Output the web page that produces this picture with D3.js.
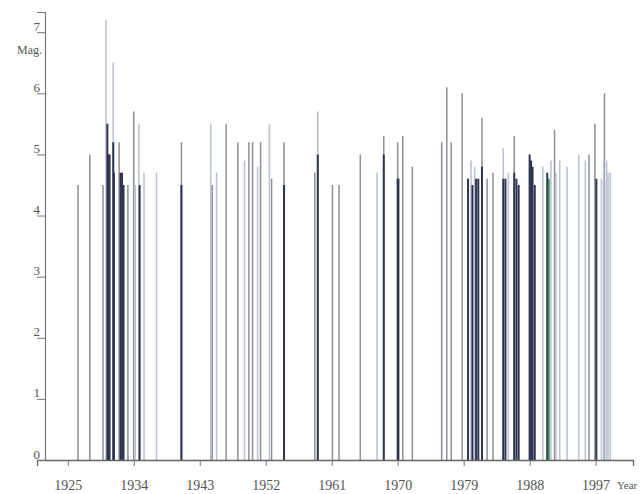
<!DOCTYPE html>
<html>
<head>
<meta charset="utf-8">
<script src="https://cdn.jsdelivr.net/npm/d3@7"></script>
<style>
  body { margin: 0; background: #fff; }
  text { font-family: "Liberation Serif", "DejaVu Serif", serif; fill: #555; }
</style>
</head>
<body>
<div id="chart"></div>
<script>
// event years (fractional), magnitudes and shade class
const years = [
  1926.4, 1928.0, 1929.8, 1930.2, 1930.4, 1930.6, 1930.7, 1931.2, 1931.2, 1931.3,
  1932.0, 1932.2, 1932.4, 1932.6, 1933.2, 1934.0, 1934.2, 1934.7, 1934.8, 1935.4,
  1937.1, 1940.5, 1940.5, 1944.5, 1944.7, 1945.3, 1946.6, 1948.2, 1949.1, 1949.7,
  1950.2, 1950.9, 1951.3, 1952.5, 1952.8, 1954.5, 1954.5, 1958.7, 1959.1, 1959.1,
  1961.1, 1962.0, 1964.9, 1967.2, 1968.1, 1968.1, 1970.0, 1970.0, 1970.1, 1970.7,
  1972.0, 1976.0, 1976.7, 1977.3, 1978.8, 1979.6, 1980.0, 1980.2, 1980.5, 1980.7,
  1981.0, 1981.5, 1981.5, 1982.2, 1983.0, 1984.4, 1984.4, 1984.7, 1985.1, 1985.9,
  1985.9, 1986.2, 1986.5, 1988.0, 1988.2, 1988.4, 1988.7, 1989.8, 1990.4, 1990.6,
  1990.9, 1991.4, 1991.6, 1992.1, 1993.1, 1994.7, 1995.6, 1996.1, 1996.9, 1997.1,
  1997.8, 1998.1, 1998.2, 1998.5, 1998.7, 1999.0
];
const mags = [
  4.5, 5.0, 4.5, 7.2, 5.5, 5.0, 5.0, 6.5, 5.2, 4.7,
  5.2, 4.7, 4.7, 4.5, 4.5, 5.7, 4.5, 5.5, 4.5, 4.7,
  4.7, 5.2, 4.5, 5.5, 4.5, 4.7, 5.5, 5.2, 4.9, 5.2,
  5.2, 4.8, 5.2, 5.5, 4.6, 5.2, 4.5, 4.7, 5.7, 5.0,
  4.5, 4.5, 5.0, 4.7, 5.3, 5.0, 5.2, 4.6, 4.6, 5.3,
  4.8, 5.2, 6.1, 5.2, 6.0, 4.6, 4.9, 4.5, 4.8, 4.6,
  4.6, 5.6, 4.8, 4.6, 4.7, 5.1, 4.6, 4.6, 4.7, 5.3,
  4.7, 4.6, 4.5, 5.0, 4.9, 4.8, 4.5, 4.8, 4.7, 4.6,
  4.9, 5.4, 4.7, 4.9, 4.8, 5.0, 4.9, 5.0, 5.5, 4.6,
  4.6, 4.9, 6.0, 4.9, 4.7, 4.7
];
const shades = [
  "m", "m", "m", "l", "d", "d", "d", "l", "d", "d",
  "m", "d", "d", "d", "m", "m", "l", "l", "d", "l",
  "l", "m", "d", "l", "m", "l", "m", "m", "l", "m",
  "m", "l", "m", "l", "m", "m", "d", "m", "l", "d",
  "m", "m", "m", "l", "m", "d", "m", "d", "d", "m",
  "m", "m", "m", "m", "m", "d", "l", "d", "l", "d",
  "d", "m", "d", "m", "m", "l", "d", "d", "l", "m",
  "d", "d", "d", "d", "d", "d", "d", "l", "d", "g",
  "l", "m", "l", "l", "l", "l", "l", "m", "m", "d",
  "l", "l", "m", "l", "l", "l"
];
const xTicks = [1925, 1934, 1943, 1952, 1961, 1970, 1979, 1988, 1997];
const yTicks = [0, 1, 2, 3, 4, 5, 6, 7];

const shadeColor = { d: "#2d3452", m: "#8c8f98", l: "#bcc3d3", g: "#2f8a4c" };
const shadeWidth = { d: 2, m: 1.5, l: 1.6, g: 2 };

const width = 642, height = 494;

const svg = d3.select("#chart")
  .append("svg")
    .attr("width", width)
    .attr("height", height);

const x = d3.scaleLinear()
  .domain([1920.8, 2002.1])
  .range([37, 633]);

const y = d3.scaleLinear()
  .domain([0, 7.33])
  .range([460, 12]);

// build events, tall ones first so short dark bars sit on top
const events = years.map((yr, i) => ({ year: yr, mag: mags[i], shade: shades[i] }))
  .sort((a, b) => b.mag - a.mag);

svg.selectAll(".quake")
  .data(events)
  .enter()
  .append("line")
    .attr("class", "quake")
    .attr("x1", d => x(d.year))
    .attr("x2", d => x(d.year))
    .attr("y1", y(0))
    .attr("y2", d => y(d.mag))
    .attr("stroke", d => shadeColor[d.shade])
    .attr("stroke-width", d => shadeWidth[d.shade]);

// X axis
const xAxis = svg.append("g")
  .attr("transform", "translate(0," + y(0) + ")")
  .call(d3.axisBottom(x).tickValues(xTicks).tickFormat(d3.format("d")).tickSizeOuter(0).tickSize(6));
xAxis.select(".domain").attr("stroke", "#666").attr("stroke-width", 1.3);
xAxis.selectAll(".tick line").attr("stroke", "#777");
xAxis.selectAll(".tick text")
  .attr("y", 20)
  .attr("font-size", 14)
  .attr("font-family", "Liberation Serif")
  .attr("fill", "#555");

// Y axis
const yAxis = svg.append("g")
  .attr("transform", "translate(45,0)")
  .call(d3.axisLeft(y).tickValues(yTicks).tickSizeOuter(0).tickSize(8));
yAxis.select(".domain").attr("stroke", "#777").attr("stroke-width", 1.2);
yAxis.selectAll(".tick line").attr("stroke", "#777");
yAxis.selectAll(".tick text")
  .attr("x", -5)
  .attr("dy", "-0.15em")
  .attr("font-size", 13)
  .attr("font-family", "Liberation Serif")
  .attr("fill", "#555");

svg.append("text")
  .attr("x", 42)
  .attr("y", 54)
  .attr("text-anchor", "end")
  .attr("font-size", 12)
  .text("Mag.");

svg.append("text")
  .attr("x", 617)
  .attr("y", 489)
  .attr("font-size", 11)
  .text("Year");
</script>
</body>
</html>
